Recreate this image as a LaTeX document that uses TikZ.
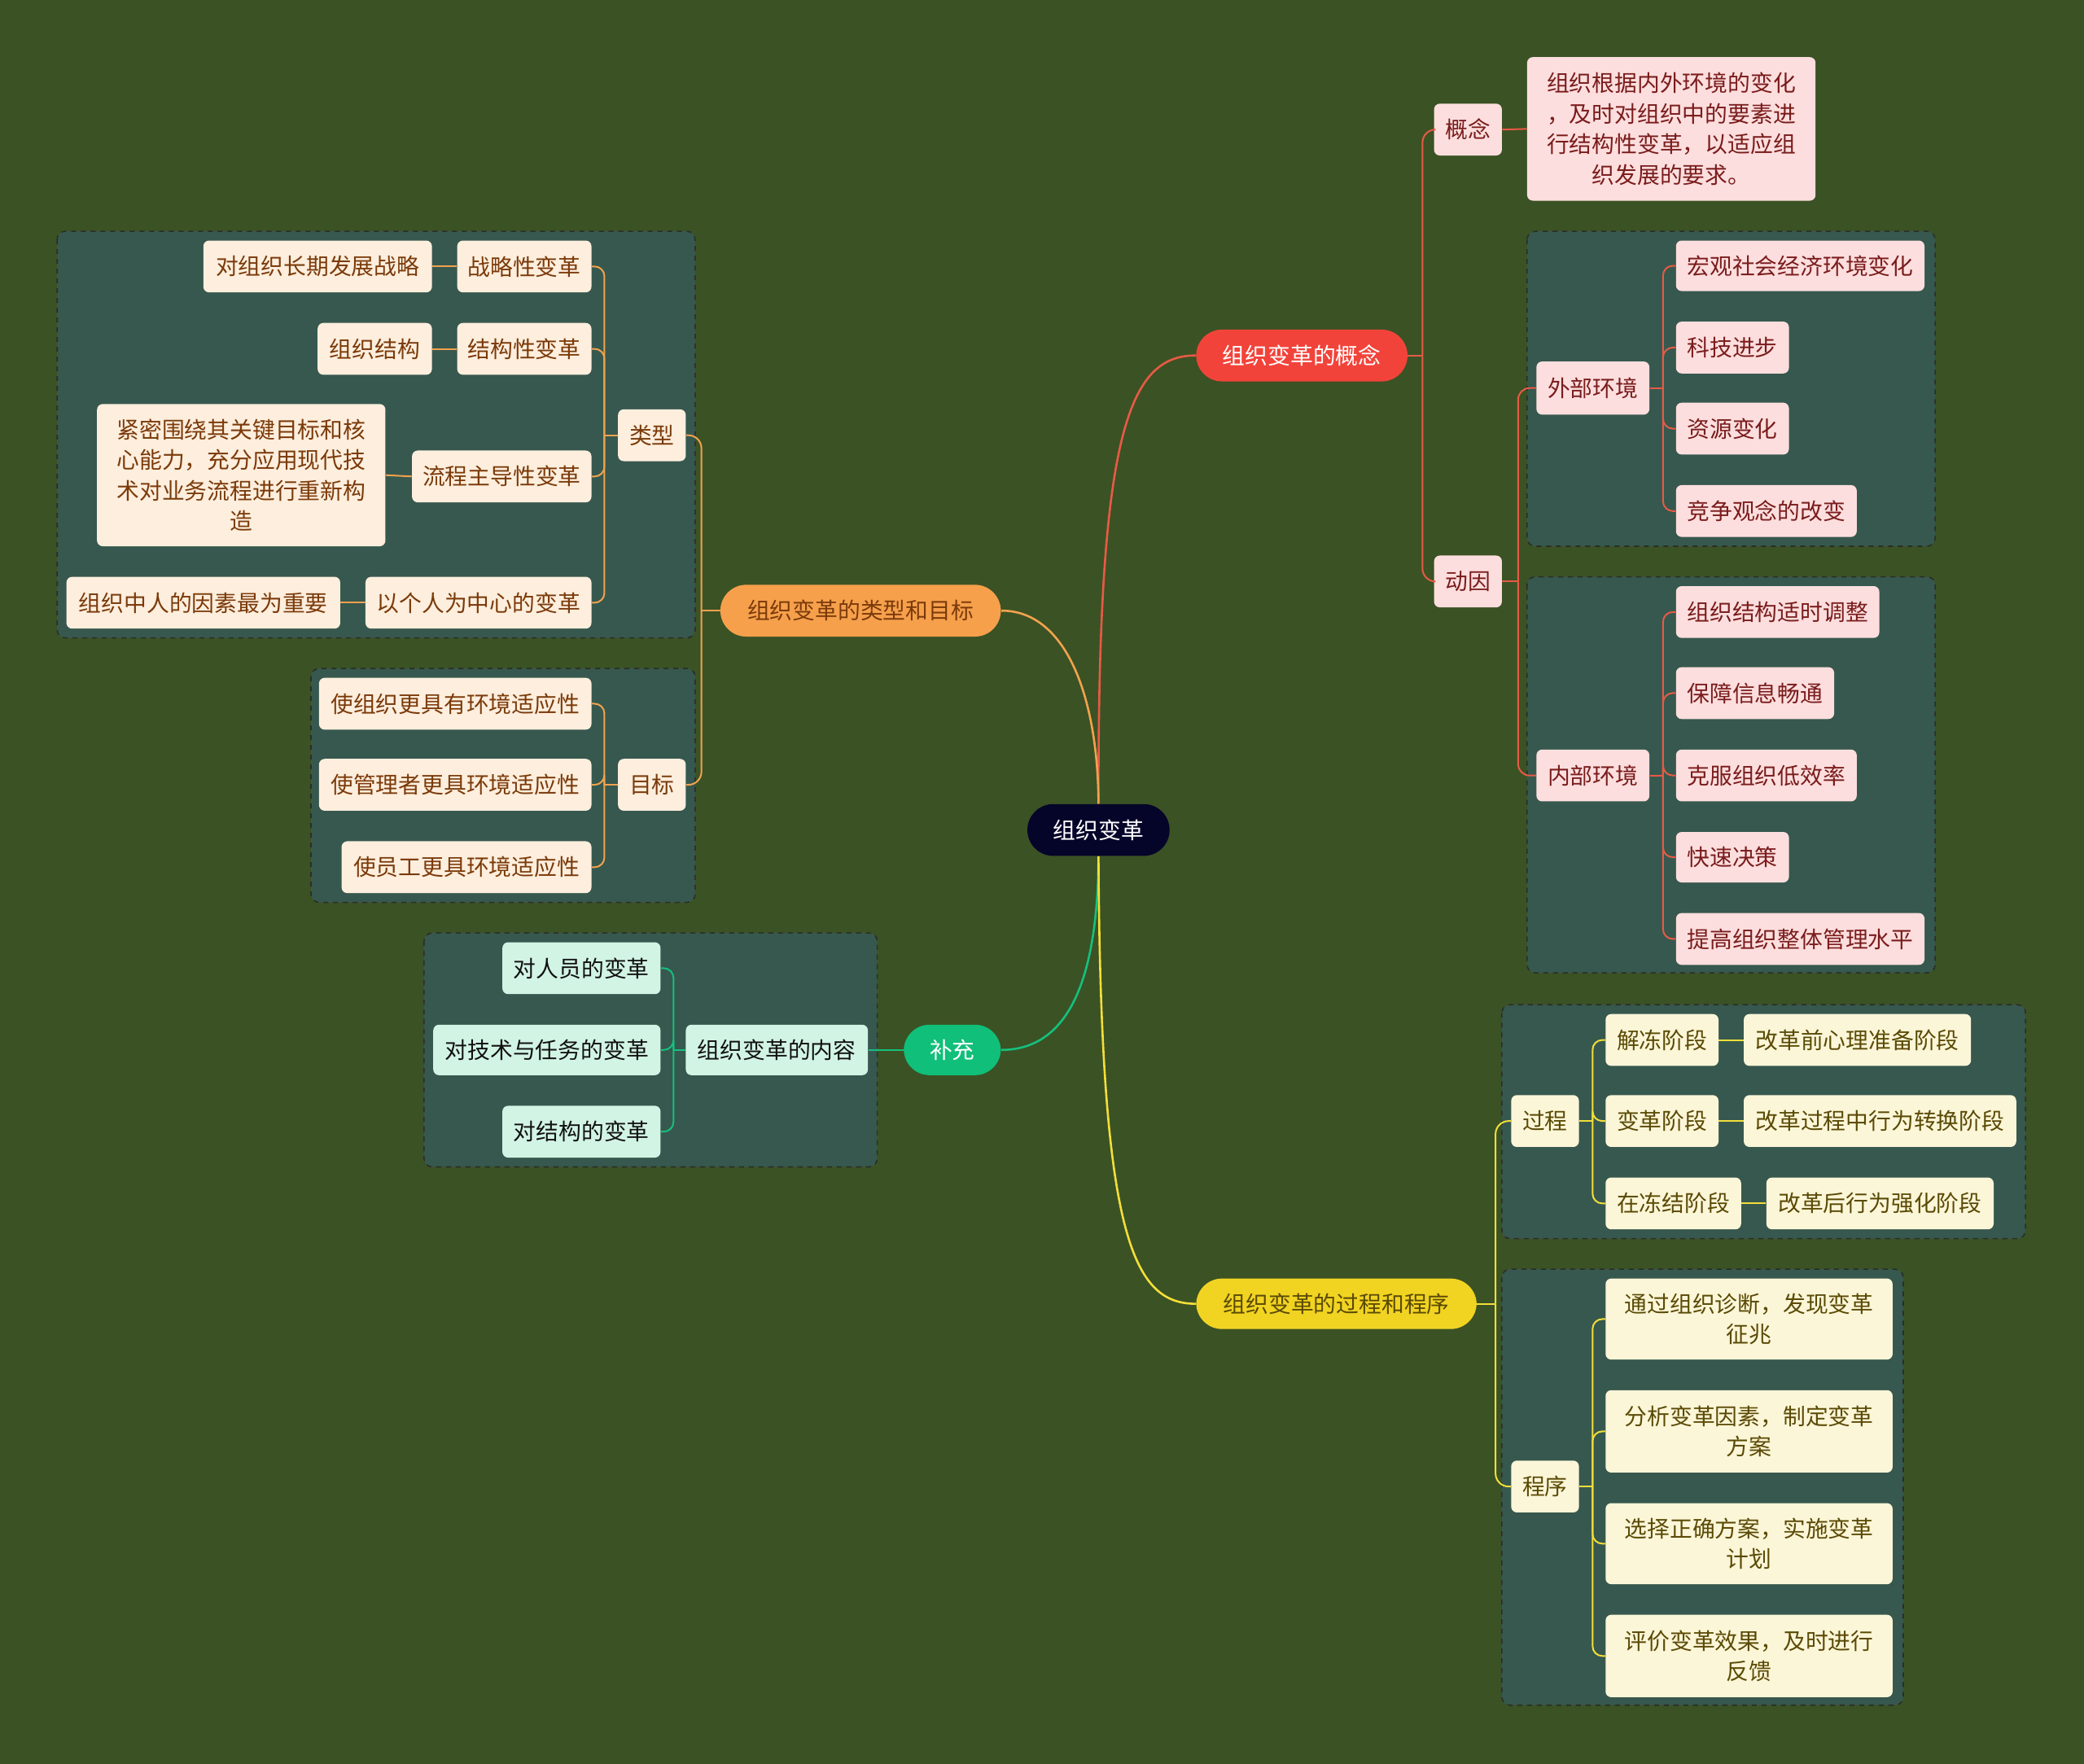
\documentclass[tikz,border=0pt]{standalone}
\usepackage{fontspec}
\setmainfont{Noto Sans CJK SC}
\usetikzlibrary{calc}
\definecolor{bgc}{HTML}{3B5224}
\definecolor{contc}{HTML}{37584E}
\definecolor{contb}{HTML}{2A2E2A}
\definecolor{rootc}{HTML}{05052A}
\definecolor{mred}{HTML}{F2433A}
\definecolor{mora}{HTML}{F6A04C}
\definecolor{mgre}{HTML}{10BF79}
\definecolor{myel}{HTML}{F1D322}
\definecolor{fred}{HTML}{FDDEDE}
\definecolor{fora}{HTML}{FDEEDD}
\definecolor{fgre}{HTML}{D2F4E5}
\definecolor{fyel}{HTML}{FCF6D8}
\definecolor{tred}{HTML}{7A1C1C}
\definecolor{tora}{HTML}{7B3A0A}
\definecolor{tgre}{HTML}{111111}
\definecolor{tyel}{HTML}{5A4A05}
\definecolor{lred}{HTML}{E85A45}
\definecolor{lora}{HTML}{F2A24E}
\definecolor{lgre}{HTML}{15C07E}
\definecolor{lyel}{HTML}{F3DE3A}
\newcommand\myun{0.8163pt}
\newcommand\mynode[7]{\node[#2,minimum width={(#5-#3)*\myun},minimum height={(#6-#4)*\myun}] (#1) at ({(#3+#5)/2},{(#4+#6)/2}) {#7};}
\tikzset{
  base/.style={rounded corners=3.5pt, inner sep=0pt, align=center, font=\fontsize{13.9}{18.8}\selectfont},
  rbox/.style={base, fill=fred, text=tred},
  obox/.style={base, fill=fora, text=tora},
  gbox/.style={base, fill=fgre, text=tgre},
  ybox/.style={base, fill=fyel, text=tyel},
  pill/.style={base, rounded corners=15.9pt},
  rootst/.style={pill, fill=rootc, text=white},
  pillr/.style={pill, fill=mred, text=white},
  pillo/.style={pill, fill=mora, text=tora},
  pillg/.style={pill, fill=mgre, text=white},
  pilly/.style={pill, fill=myel, text=tyel},
  cont/.style={fill=contc, draw=contb, dashed, line width=0.8pt, rounded corners=5pt},
  rl/.style={draw=lred, line width=1pt},
  ol/.style={draw=lora, line width=1pt},
  gl/.style={draw=lgre, line width=1pt},
  yl/.style={draw=lyel, line width=1pt},
  mainl/.style={line width=1.3pt},
}
\begin{document}
\begin{tikzpicture}[x=0.8163pt,y=-0.8163pt]
\useasboundingbox (0,0) rectangle (1568,1327);
\fill[bgc] (0,0) rectangle (1568,1327);

% containers
\draw[cont] (1149,174) rectangle (1456,411);
\draw[cont] (1149,434) rectangle (1456,732);
\draw[cont] (43,174) rectangle (523,480);
\draw[cont] (234,503) rectangle (523,679);
\draw[cont] (319,702) rectangle (660,878);
\draw[cont] (1130,756) rectangle (1524,932);
\draw[cont] (1130,955) rectangle (1432,1283);

% root and main branches
\mynode{root}{rootst}{773}{605}{880}{644}{组织变革}
\mynode{m1}{pillr}{900}{248}{1059}{287}{组织变革的概念}
\mynode{m2}{pillo}{542}{440}{753}{479}{组织变革的类型和目标}
\mynode{m3}{pillg}{680}{771}{753}{809}{补充}
\mynode{m4}{pilly}{900}{962}{1111}{1000}{组织变革的过程和程序}

% red branch
\mynode{gn}{rbox}{1079}{78}{1130}{117}{概念}
\mynode{gnt}{rbox}{1149}{43}{1366}{151}{组织根据内外环境的变化\\，及时对组织中的要素进\\行结构性变革，以适应组\\织发展的要求。}
\mynode{dy}{rbox}{1079}{418}{1130}{457}{动因}
\mynode{wb}{rbox}{1156}{272}{1241}{312}{外部环境}
\mynode{w1}{rbox}{1261}{181}{1448}{219}{宏观社会经济环境变化}
\mynode{w2}{rbox}{1261}{242}{1346}{281}{科技进步}
\mynode{w3}{rbox}{1261}{303}{1346}{342}{资源变化}
\mynode{w4}{rbox}{1261}{365}{1397}{404}{竞争观念的改变}
\mynode{nb}{rbox}{1156}{564}{1241}{603}{内部环境}
\mynode{n1}{rbox}{1261}{441}{1414}{480}{组织结构适时调整}
\mynode{n2}{rbox}{1261}{502}{1380}{541}{保障信息畅通}
\mynode{n3}{rbox}{1261}{564}{1397}{603}{克服组织低效率}
\mynode{n4}{rbox}{1261}{626}{1346}{664}{快速决策}
\mynode{n5}{rbox}{1261}{687}{1448}{726}{提高组织整体管理水平}

% orange branch
\mynode{lx}{obox}{465}{308}{516}{347}{类型}
\mynode{o1}{obox}{344}{181}{445}{220}{战略性变革}
\mynode{o1a}{obox}{153}{181}{325}{220}{对组织长期发展战略}
\mynode{o2}{obox}{344}{243}{445}{282}{结构性变革}
\mynode{o2a}{obox}{239}{243}{325}{282}{组织结构}
\mynode{o3}{obox}{310}{339}{445}{378}{流程主导性变革}
\mynode{o3a}{obox}{73}{304}{290}{411}{紧密围绕其关键目标和核\\心能力，充分应用现代技\\术对业务流程进行重新构\\造}
\mynode{o4}{obox}{275}{434}{445}{473}{以个人为中心的变革}
\mynode{o4a}{obox}{50}{434}{256}{473}{组织中人的因素最为重要}
\mynode{mb}{obox}{465}{571}{516}{610}{目标}
\mynode{t1}{obox}{240}{510}{445}{549}{使组织更具有环境适应性}
\mynode{t2}{obox}{240}{571}{445}{610}{使管理者更具环境适应性}
\mynode{t3}{obox}{257}{633}{445}{672}{使员工更具环境适应性}

% green branch
\mynode{nr}{gbox}{516}{771}{653}{809}{组织变革的内容}
\mynode{g1}{gbox}{378}{709}{497}{748}{对人员的变革}
\mynode{g2}{gbox}{326}{771}{497}{809}{对技术与任务的变革}
\mynode{g3}{gbox}{378}{832}{497}{871}{对结构的变革}

% yellow branch
\mynode{gc}{ybox}{1137}{824}{1188}{863}{过程}
\mynode{y1}{ybox}{1208}{763}{1293}{802}{解冻阶段}
\mynode{y1a}{ybox}{1312}{763}{1483}{802}{改革前心理准备阶段}
\mynode{y2}{ybox}{1208}{824}{1293}{863}{变革阶段}
\mynode{y2a}{ybox}{1312}{824}{1517}{863}{改革过程中行为转换阶段}
\mynode{y3}{ybox}{1208}{886}{1310}{925}{在冻结阶段}
\mynode{y3a}{ybox}{1329}{886}{1500}{925}{改革后行为强化阶段}
\mynode{cx}{ybox}{1137}{1099}{1188}{1138}{程序}
\mynode{p1}{ybox}{1208}{962}{1424}{1023}{通过组织诊断，发现变革\\征兆}
\mynode{p2}{ybox}{1208}{1046}{1424}{1108}{分析变革因素，制定变革\\方案}
\mynode{p3}{ybox}{1208}{1131}{1424}{1192}{选择正确方案，实施变革\\计划}
\mynode{p4}{ybox}{1208}{1215}{1424}{1277}{评价变革效果，及时进行\\反馈}

% main curves
\draw[rl,mainl] (root.north) .. controls (826,330) and (848,267) .. (m1.west);
\draw[ol,mainl] (root.north) .. controls (826,520) and (800,459) .. (m2.east);
\draw[gl,mainl] (root.south) .. controls (826,745) and (800,790) .. (m3.east);
\draw[yl,mainl] (root.south) .. controls (828,930) and (852,981) .. (m4.west);

% junctions
\coordinate (jm1) at ($(m1.east)+(11,0)$);
\coordinate (jdy) at ($(dy.east)+(12,0)$);
\coordinate (jwb) at ($(wb.east)+(10,0)$);
\coordinate (jnb) at ($(nb.east)+(10,0)$);
\coordinate (jm2) at ($(m2.west)+(-14,0)$);
\coordinate (jlx) at ($(lx.west)+(-10,0)$);
\coordinate (jmb) at ($(mb.west)+(-10,0)$);
\coordinate (jnr) at ($(nr.west)+(-9,0)$);
\coordinate (jm4) at ($(m4.east)+(14,0)$);
\coordinate (jgc) at ($(gc.east)+(10,0)$);
\coordinate (jcx) at ($(cx.east)+(10,0)$);

% red connectors
\draw[rl] (m1.east) -- (jm1);
\foreach \c in {gn,dy} \draw[rl,rounded corners=8pt] (jm1) |- (\c.west);
\draw[rl] (gn.east) -- (gnt.west);
\draw[rl] (dy.east) -- (jdy);
\foreach \c in {wb,nb} \draw[rl,rounded corners=7pt] (jdy) |- (\c.west);
\draw[rl] (wb.east) -- (jwb);
\foreach \c in {w1,w2,w3,w4} \draw[rl,rounded corners=6pt] (jwb) |- (\c.west);
\draw[rl] (nb.east) -- (jnb);
\foreach \c in {n1,n2,n3,n4,n5} \draw[rl,rounded corners=6pt] (jnb) |- (\c.west);

% orange connectors
\draw[ol] (m2.west) -- (jm2);
\foreach \c in {lx,mb} \draw[ol,rounded corners=8pt] (jm2) |- (\c.east);
\draw[ol] (lx.west) -- (jlx);
\foreach \c in {o1,o2,o3,o4} \draw[ol,rounded corners=6pt] (jlx) |- (\c.east);
\draw[ol] (o1.west) -- (o1a.east);
\draw[ol] (o2.west) -- (o2a.east);
\draw[ol] (o3.west) -- (o3a.east);
\draw[ol] (o4.west) -- (o4a.east);
\draw[ol] (mb.west) -- (jmb);
\foreach \c in {t1,t2,t3} \draw[ol,rounded corners=6pt] (jmb) |- (\c.east);

% green connectors
\draw[gl] (m3.west) -- (nr.east);
\draw[gl] (nr.west) -- (jnr);
\foreach \c in {g1,g2,g3} \draw[gl,rounded corners=6pt] (jnr) |- (\c.east);

% yellow connectors
\draw[yl] (m4.east) -- (jm4);
\foreach \c in {gc,cx} \draw[yl,rounded corners=8pt] (jm4) |- (\c.west);
\draw[yl] (gc.east) -- (jgc);
\foreach \c in {y1,y2,y3} \draw[yl,rounded corners=6pt] (jgc) |- (\c.west);
\draw[yl] (y1.east) -- (y1a.west);
\draw[yl] (y2.east) -- (y2a.west);
\draw[yl] (y3.east) -- (y3a.west);
\draw[yl] (cx.east) -- (jcx);
\foreach \c in {p1,p2,p3,p4} \draw[yl,rounded corners=6pt] (jcx) |- (\c.west);
\end{tikzpicture}
\end{document}
